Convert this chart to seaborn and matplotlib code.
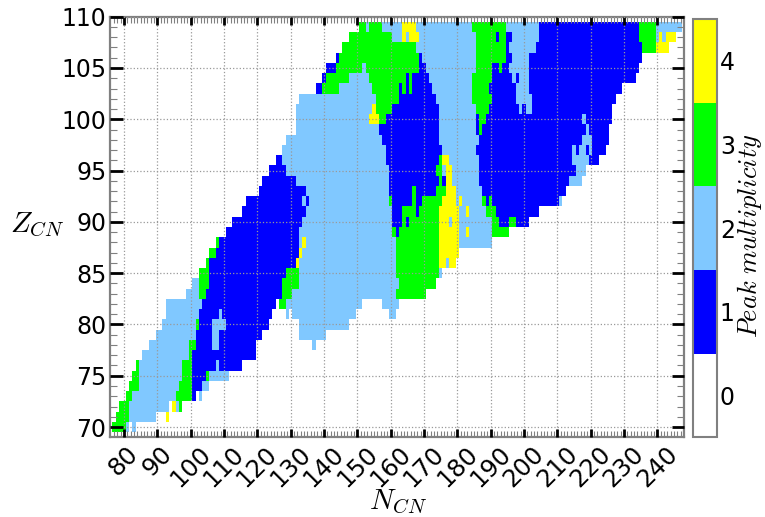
import numpy as np
import pandas as pd
import matplotlib
matplotlib.use("Agg")
import matplotlib.pyplot as plt
from matplotlib.colors import ListedColormap
from matplotlib.ticker import FixedLocator
import seaborn as sns

# runs of (first N, last N, peak multiplicity) for each Z; cells not listed are 0
z70 = [(77,80,3),(81,81,2),(83,83,2)]
z71 = [(78,81,3),(82,89,2),(93,93,4)]
z72 = [(79,81,3),(82,93,2),(95,95,4),(96,96,2),(97,97,3)]
z73 = [(81,82,3),(83,95,2),(96,100,3),(101,101,1),(103,103,2)]
z74 = [(82,84,3),(85,96,2),(97,100,3),(101,103,1),(104,105,2)]
z75 = [(83,84,3),(85,97,2),(98,100,3),(101,104,1),(105,105,3),(106,111,2)]
z76 = [(84,84,3),(85,97,2),(98,100,3),(101,107,1),(108,108,2),(109,115,1)]
z77 = [(86,99,2),(100,100,3),(101,119,1)]
z78 = [(88,99,2),(100,101,3),(102,106,1),(107,108,2),(109,119,1),(137,137,2)]
z79 = [(90,101,2),(102,106,1),(107,108,2),(109,121,1),(133,140,2)]
z80 = [(92,101,2),(102,102,3),(103,106,1),(107,110,2),(111,123,1),(133,147,2)]
z81 = [(93,102,2),(103,108,1),(109,109,2),(110,124,1),(129,129,2),(131,149,2),(160,161,2)]
z82 = [(93,103,2),(104,125,1),(127,128,3),(129,151,2),(158,162,2)]
z83 = [(99,102,2),(103,104,3),(105,127,1),(128,130,3),(131,161,2),(162,170,3)]
z84 = [(101,102,2),(103,105,3),(106,127,1),(128,132,3),(133,162,2),(163,173,3)]
z85 = [(103,105,3),(106,128,1),(129,132,3),(133,161,2),(162,174,3),(175,175,2)]
z86 = [(105,105,3),(106,131,1),(132,132,4),(133,161,2),(162,174,3),(175,176,4),(177,177,2),(178,179,4)]
z87 = [(106,107,3),(108,132,1),(133,133,4),(134,161,2),(162,174,3),(175,180,4)]
z88 = [(108,108,3),(109,132,1),(133,133,2),(134,134,4),(135,161,2),(162,174,3),(175,180,4),(181,190,2)]
z89 = [(111,132,1),(133,160,2),(161,161,3),(162,162,1),(163,174,3),(175,180,4),(181,182,2),(183,183,4),(184,190,2),(191,195,3)]
z90 = [(113,133,1),(134,160,2),(161,163,1),(164,164,3),(165,165,1),(166,174,3),(175,177,4),(178,178,2),(179,180,4),(181,190,2),(191,192,3),(193,195,1),(196,197,3),(198,201,1)]
z91 = [(116,134,1),(135,160,2),(161,163,1),(164,167,3),(168,168,1),(169,174,3),(175,180,4),(181,182,2),(183,183,4),(184,188,2),(189,191,3),(192,204,1)]
z92 = [(117,133,1),(134,134,2),(135,135,1),(136,159,2),(160,160,3),(161,166,1),(167,167,3),(168,169,1),(170,175,3),(176,179,4),(180,180,2),(181,181,4),(182,187,2),(188,188,3),(189,189,1),(190,190,3),(191,210,1),(211,211,2)]
z93 = [(121,134,1),(135,159,2),(160,166,1),(167,167,3),(168,173,1),(174,176,3),(177,179,4),(180,187,2),(188,212,1)]
z94 = [(122,131,1),(132,159,2),(160,174,1),(175,175,3),(176,176,1),(177,178,4),(179,186,2),(187,213,1),(214,217,2)]
z95 = [(124,128,1),(129,159,2),(160,173,1),(174,175,3),(176,176,2),(177,178,4),(179,186,2),(187,215,1),(216,218,2)]
z96 = [(126,127,1),(128,158,2),(159,174,1),(175,175,3),(176,177,4),(178,186,2),(187,214,1),(215,219,2),(220,222,1)]
z97 = [(128,158,2),(159,175,1),(176,185,2),(186,214,1),(215,215,2),(216,216,1),(217,218,2),(219,219,1),(220,220,2),(221,224,1)]
z98 = [(129,157,2),(158,174,1),(175,186,2),(187,217,1),(218,220,2),(221,225,1)]
z99 = [(132,156,2),(157,174,1),(175,185,2),(186,186,1),(187,187,3),(188,218,1),(219,219,2),(220,225,1)]
z100 = [(132,153,2),(154,156,4),(157,158,3),(159,174,1),(175,185,2),(186,186,1),(187,188,3),(189,217,1),(218,218,2),(219,226,1)]
z101 = [(132,154,2),(155,155,4),(156,160,3),(161,174,1),(175,185,2),(186,189,3),(190,198,1),(199,199,2),(200,200,1),(201,202,2),(203,226,1)]
z102 = [(133,155,2),(156,162,3),(163,173,1),(174,184,2),(185,190,3),(191,197,1),(198,202,2),(203,227,1)]
z103 = [(138,139,1),(140,144,3),(145,154,2),(155,162,3),(163,163,1),(164,164,3),(165,165,1),(166,166,3),(167,172,1),(173,184,2),(185,189,3),(190,197,1),(198,201,2),(202,229,1)]
z104 = [(140,140,1),(141,147,3),(148,153,2),(154,164,3),(165,165,1),(166,166,3),(167,171,1),(172,184,2),(185,190,3),(191,196,1),(197,197,2),(198,198,1),(199,201,2),(202,233,1)]
z105 = [(141,143,1),(144,151,3),(152,152,2),(153,168,3),(169,170,1),(171,185,2),(186,190,3),(191,192,1),(193,193,3),(194,195,1),(196,201,2),(202,234,1)]
z106 = [(144,144,1),(145,168,3),(169,169,1),(170,185,2),(186,194,3),(195,196,1),(197,201,2),(202,235,1)]
z107 = [(146,167,3),(168,185,2),(186,194,3),(195,195,1),(196,203,2),(204,235,1),(236,239,3),(240,243,4)]
z108 = [(148,160,3),(161,163,2),(164,164,4),(165,165,2),(166,168,4),(169,185,2),(186,191,3),(192,192,1),(193,194,3),(195,196,1),(197,204,2),(205,234,1),(235,239,3),(240,240,2),(241,241,4),(242,242,2),(243,245,4)]
z109 = [(151,152,3),(153,153,2),(154,157,3),(158,163,2),(164,167,4),(168,184,2),(185,194,3),(195,204,2),(205,234,1),(235,239,3),(240,247,2)]

rows = [z70,z71,z72,z73,z74,z75,z76,z77,z78,z79,z80,z81,z82,z83,z84,z85,z86,z87,z88,z89,
        z90,z91,z92,z93,z94,z95,z96,z97,z98,z99,z100,z101,z102,z103,z104,z105,z106,z107,z108,z109]
z_first = 70
x_ticks = list(range(80, 241, 10))
y_ticks = list(range(70, 111, 5))
palette = ["#ffffff", "#0000ff", "#80c8ff", "#00ff00", "#ffff00"]

N_axis = np.arange(76, 249)
Z_axis = np.arange(69, 111)
df = pd.DataFrame(0, index=Z_axis, columns=N_axis, dtype=float)
for k, runs in enumerate(rows):
    for a, b, v in runs:
        df.loc[z_first + k, a:b] = v

sns.set_style("white")
plt.rcParams["mathtext.fontset"] = "cm"
plt.rcParams["font.family"] = "DejaVu Sans"

fig = plt.figure(figsize=(7.65, 5.17), dpi=100)
W, H = 765.0, 517.0
ax = fig.add_axes([110.5/W, 1-437.3/H, (684-110.5)/W, (437.3-16.7)/H])
cax = fig.add_axes([693/W, 1-437.3/H, 24/W, (437.3-19)/H])

sns.heatmap(df, ax=ax, cbar_ax=cax, cmap=ListedColormap(palette), vmin=-0.5, vmax=4.5,
            cbar_kws={"ticks": [0, 1, 2, 3, 4]}, xticklabels=False, yticklabels=False,
            rasterized=True)

pos_x = lambda n: n - 76 + 0.5
pos_y = lambda z: z - 69 + 0.5
ax.set_xlim(pos_x(76), pos_x(248))
ax.set_ylim(pos_y(69), pos_y(110))
ax.set_xticks([pos_x(n) for n in x_ticks])
ax.set_xticklabels([str(n) for n in x_ticks], rotation=45, ha="center", fontsize=17.5, color="black")
ax.set_yticks([pos_y(z) for z in y_ticks])
ax.set_yticklabels([str(z) for z in y_ticks], rotation=0, fontsize=17, color="black")
ax.xaxis.set_minor_locator(FixedLocator([pos_x(n) for n in range(77, 248)]))
ax.yaxis.set_minor_locator(FixedLocator([pos_y(z) for z in range(70, 110)]))
ax.tick_params(axis="x", which="major", direction="in", length=6, width=2, color="black",
               top=True, bottom=True, pad=3)
ax.tick_params(axis="y", which="major", direction="in", length=9, width=2, color="black",
               left=True, right=True, pad=3)
ax.tick_params(axis="x", which="minor", direction="in", length=4, width=0.8, color="#808080",
               top=True, bottom=True)
ax.tick_params(axis="y", which="minor", direction="in", length=5, width=0.8, color="#808080",
               left=True, right=True)
ax.set_axisbelow(False)
ax.grid(True, which="major", linestyle=":", color="#999999", linewidth=0.9)
for s in ax.spines.values():
    s.set_visible(True)
    s.set_color("#808080")
    s.set_linewidth(1.6)

cbar = ax.collections[0].colorbar
cbar.outline.set_visible(True)
cbar.outline.set_edgecolor("#808080")
cbar.outline.set_linewidth(1.5)
cax.tick_params(labelsize=17, length=3, width=0.8, direction="in", color="black", pad=2,
                labelcolor="black")
cax.minorticks_off()

fig.text(37/W, 1-225/H, r"$Z_{CN}$", fontsize=21, ha="center", va="center", color="black")
fig.text(398/W, 1-502/H, r"$N_{CN}$", fontsize=21, ha="center", va="center", color="black")
fig.text(750/W, 1-236/H, r"$Peak\ multiplicity$", fontsize=19, rotation=90, ha="center", va="center", color="black")

fig.savefig("out.png", dpi=100)
